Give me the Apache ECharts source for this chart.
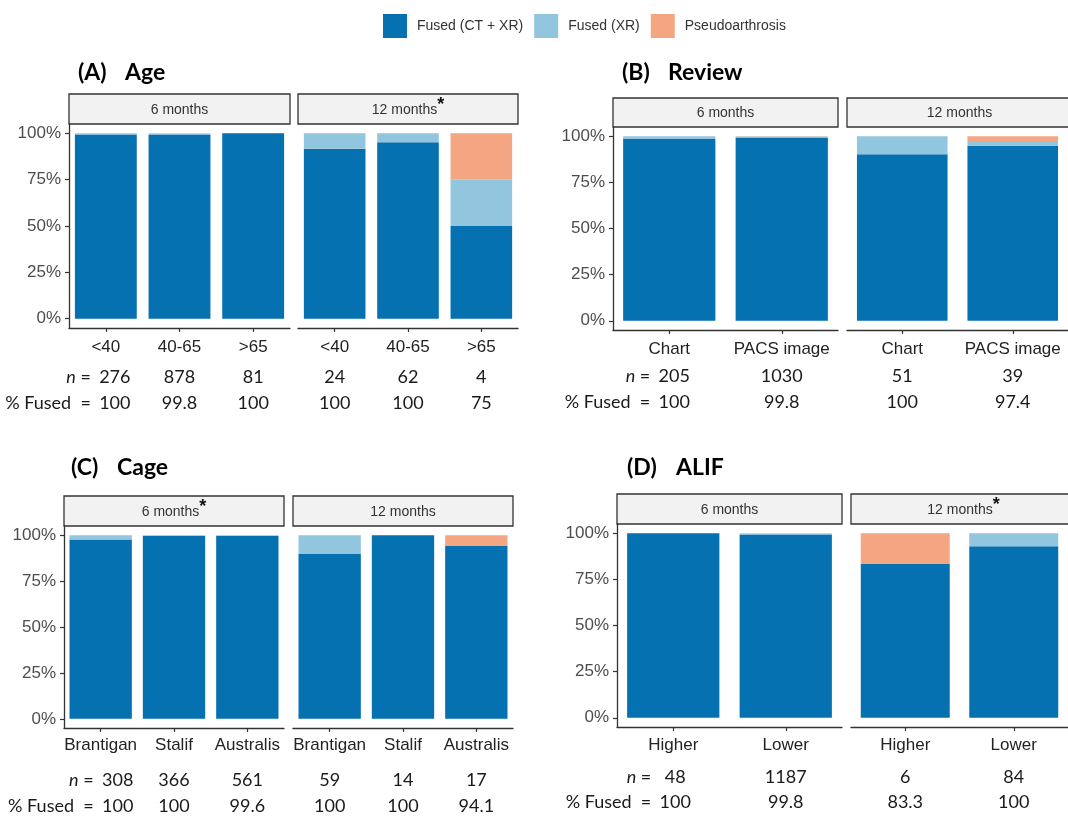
<!DOCTYPE html>
<html><head><meta charset="utf-8">
<script src="https://cdn.jsdelivr.net/npm/echarts@6/dist/echarts.min.js"></script>
<style>html,body{margin:0;padding:0;background:#fff}#c{width:1068px;height:817px}</style>
</head><body><div id="c"></div><script>
// ---------- DATA ----------
const seriesNames = ['Fused (CT + XR)', 'Fused (XR)', 'Pseudoarthrosis'];
const facetNames = ['6 months', '12 months'];
const yTicks = [0, 25, 50, 75, 100];

// (A) Age
const ageCats = ['<40', '40-65', '>65'];
const age6CT = [99.3, 99.4, 100];
const age6XR = [0.7, 0.4, 0];
const age6PS = [0, 0.2, 0];
const age12CT = [91.7, 95.2, 50];
const age12XR = [8.3, 4.8, 25];
const age12PS = [0, 0, 25];
const age6N = ['276', '878', '81'];
const age12N = ['24', '62', '4'];
const age6Pct = ['100', '99.8', '100'];
const age12Pct = ['100', '100', '75'];

// (B) Review
const revCats = ['Chart', 'PACS image'];
const rev6CT = [98.5, 99.3];
const rev6XR = [1.5, 0.5];
const rev6PS = [0, 0.2];
const rev12CT = [90.2, 94.9];
const rev12XR = [9.8, 2.5];
const rev12PS = [0, 2.6];
const rev6N = ['205', '1030'];
const rev12N = ['51', '39'];
const rev6Pct = ['100', '99.8'];
const rev12Pct = ['100', '97.4'];

// (C) Cage
const cageCats = ['Brantigan', 'Stalif', 'Australis'];
const cage6CT = [97.7, 99.7, 99.6];
const cage6XR = [2.3, 0.3, 0];
const cage6PS = [0, 0, 0.4];
const cage12CT = [89.8, 100, 94.1];
const cage12XR = [10.2, 0, 0];
const cage12PS = [0, 0, 5.9];
const cage6N = ['308', '366', '561'];
const cage12N = ['59', '14', '17'];
const cage6Pct = ['100', '100', '99.6'];
const cage12Pct = ['100', '100', '94.1'];

// (D) ALIF
const alifCats = ['Higher', 'Lower'];
const alif6CT = [100, 99.3];
const alif6XR = [0, 0.5];
const alif6PS = [0, 0.2];
const alif12CT = [83.3, 92.9];
const alif12XR = [0, 7.1];
const alif12PS = [16.7, 0];
const alif6N = ['48', '1187'];
const alif12N = ['6', '84'];
const alif6Pct = ['100', '99.8'];
const alif12Pct = ['83.3', '100'];

// ---------- PANELS (data refs + layout) ----------
const colors = ['#0571B0', '#92C5DE', '#F4A582'];
const panels = [
  { tag: '(A)', title: 'Age', cats: ageCats,
    facets: [
      { star: false, vals: [age6CT, age6XR, age6PS], n: age6N, pct: age6Pct },
      { star: true, vals: [age12CT, age12XR, age12PS], n: age12N, pct: age12Pct }],
    L: { stripTop: 94, top: 124, bottom: 328, lefts: [69, 298], widths: [221, 220], ty: 73, tx: [78, 125], m: 4, lh: [30, 30, 22], bw: '84%', shift: 9 } },
  { tag: '(B)', title: 'Review', cats: revCats,
    facets: [
      { star: false, vals: [rev6CT, rev6XR, rev6PS], n: rev6N, pct: rev6Pct },
      { star: false, vals: [rev12CT, rev12XR, rev12PS], n: rev12N, pct: rev12Pct }],
    L: { stripTop: 98, top: 127, bottom: 330, lefts: [613, 847], widths: [225, 225], ty: 73, tx: [622, 668], m: 4, lh: [30, 24, 28], bw: '82%', shift: 5 } },
  { tag: '(C)', title: 'Cage', cats: cageCats,
    facets: [
      { star: true, vals: [cage6CT, cage6XR, cage6PS], n: cage6N, pct: cage6Pct },
      { star: false, vals: [cage12CT, cage12XR, cage12PS], n: cage12N, pct: cage12Pct }],
    L: { stripTop: 496, top: 526, bottom: 728, lefts: [64, 293], widths: [220, 220], ty: 468, tx: [71, 117], m: 2, lh: [30, 40, 12], bw: '85%', shift: 17 } },
  { tag: '(D)', title: 'ALIF', cats: alifCats,
    facets: [
      { star: false, vals: [alif6CT, alif6XR, alif6PS], n: alif6N, pct: alif6Pct },
      { star: true, vals: [alif12CT, alif12XR, alif12PS], n: alif12N, pct: alif12Pct }],
    L: { stripTop: 494, top: 524, bottom: 727, lefts: [617, 851], widths: [225, 225], ty: 468, tx: [627, 676], m: 3, lh: [30, 34, 16], bw: '82%', shift: 2 } }
];

const axisCol = '#333333';
const numFont = 'Lato, "Open Sans", sans-serif';
const grids = [], xAxes = [], yAxes = [], series = [], graphics = [];
let gi = 0;
panels.forEach(p => {
  const L = p.L;
  graphics.push({ type: 'text', x: L.tx[0], y: L.ty, style: { text: p.tag, font: 'bold 23px Lato, sans-serif', fill: '#000', textAlign: 'left', textVerticalAlign: 'middle', align: 'left', verticalAlign: 'middle' } });
  graphics.push({ type: 'text', x: L.tx[1], y: L.ty, style: { text: p.title, font: 'bold 23px Lato, sans-serif', fill: '#000', textAlign: 'left', textVerticalAlign: 'middle', align: 'left', verticalAlign: 'middle' } });
  p.facets.forEach((f, fi) => {
    const left = L.lefts[fi], width = L.widths[fi];
    grids.push({ left: left, top: L.top, width: width, height: L.bottom - L.top, containLabel: false });
    const nArr = f.n, pArr = f.pct;
    const sh = 2 * L.shift;
    xAxes.push({
      type: 'category', gridIndex: gi, data: p.cats,
      axisLine: { show: true, onZero: false, lineStyle: { color: axisCol, width: 1.3 } },
      axisTick: { show: true, alignWithLabel: true, length: 4, lineStyle: { color: axisCol, width: 1.2 } },
      axisLabel: {
        interval: 0, margin: L.m,
        formatter: (v, idx) => {
          const first = (fi === 0 && idx === 0);
          return '{c|' + v + '}\n{' + (first ? 'n0' : 'n') + '|' + nArr[idx] + '}\n{' + (first ? 'p0' : 'p') + '|' + pArr[idx] + '}';
        },
        rich: {
          c: { fontFamily: '"Liberation Sans", Arial, sans-serif', fontSize: 17, color: '#222', lineHeight: L.lh[0] },
          n: { fontFamily: numFont, fontSize: 18, color: '#1a1a1a', lineHeight: L.lh[1] },
          p: { fontFamily: numFont, fontSize: 18, color: '#1a1a1a', lineHeight: L.lh[2] },
          n0: { fontFamily: numFont, fontSize: 18, color: '#1a1a1a', lineHeight: L.lh[1], padding: [0, 0, 0, sh] },
          p0: { fontFamily: numFont, fontSize: 18, color: '#1a1a1a', lineHeight: L.lh[2], padding: [0, 0, 0, sh] }
        }
      }
    });
    yAxes.push({
      type: 'value', gridIndex: gi, min: -5, max: 105, show: fi === 0,
      splitLine: { show: false },
      axisLine: { show: fi === 0, lineStyle: { color: axisCol, width: 1.3 } },
      axisTick: { show: fi === 0, length: 4, customValues: yTicks, lineStyle: { color: axisCol, width: 1.2 } },
      axisLabel: { show: fi === 0, customValues: yTicks, margin: 8, formatter: v => v + '%', fontFamily: '"Liberation Sans", Arial, sans-serif', fontSize: 17, color: '#4d4d4d' }
    });
    f.vals.forEach((arr, si) => {
      series.push({
        type: 'bar', name: seriesNames[si], xAxisIndex: gi, yAxisIndex: gi, stack: 'g' + gi,
        data: arr, barWidth: L.bw, itemStyle: { color: colors[si] }, emphasis: { disabled: true }
      });
    });
    graphics.push({ type: 'rect', shape: { x: left, y: L.stripTop, width: width, height: L.top - L.stripTop }, style: { fill: '#f2f2f2', stroke: '#333', lineWidth: 1.3 } });
    const stxt = f.star ? '{t|' + facetNames[fi] + '}{s|*}' : '{t|' + facetNames[fi] + '}';
    graphics.push({ type: 'text', x: left + width / 2, y: L.stripTop + (L.top - L.stripTop) / 2 + 1,
      style: { text: stxt, textAlign: 'center', textVerticalAlign: 'middle', align: 'center', verticalAlign: 'middle',
        rich: { t: { fontFamily: '"Liberation Sans Narrow", "Liberation Sans", Arial, sans-serif', fontSize: 14, fill: '#333', color: '#333' },
                s: { fontFamily: 'Arial, sans-serif', fontWeight: 'bold', fontSize: 18, fill: '#111', color: '#111', padding: [0, 0, 9, 0] } } } });
    if (fi === 0) {
      const firstCenter = left + width / (2 * p.cats.length) + L.shift;
      const px = firstCenter - 24;
      const yN = L.bottom + L.m + L.lh[0] + L.lh[1] / 2;
      const yP = L.bottom + L.m + L.lh[0] + L.lh[1] + L.lh[2] / 2;
      graphics.push({ type: 'text', x: px, y: yN, style: { text: '{i|n} =', textAlign: 'right', textVerticalAlign: 'middle', align: 'right', verticalAlign: 'middle',
        rich: { i: { fontFamily: numFont, fontStyle: 'italic', fontSize: 18, fill: '#1a1a1a', color: '#1a1a1a' } }, font: '18px ' + numFont, fill: '#1a1a1a' } });
      graphics.push({ type: 'text', x: px, y: yP, style: { text: '% Fused  =', font: '18px ' + numFont, fill: '#1a1a1a', textAlign: 'right', textVerticalAlign: 'middle', align: 'right', verticalAlign: 'middle' } });
    }
    gi++;
  });
});

const chart = echarts.init(document.getElementById('c'), null, { renderer: 'canvas' });
chart.setOption({
  animation: false,
  backgroundColor: '#ffffff',
  color: colors,
  legend: {
    data: seriesNames, top: 9, left: 378, itemWidth: 24, itemHeight: 24, itemGap: 11, icon: 'rect', selectedMode: false,
    textStyle: { fontFamily: '"Liberation Sans", Arial, sans-serif', fontSize: 14, color: '#333', padding: [0, 0, 0, 5] }
  },
  grid: grids, xAxis: xAxes, yAxis: yAxes, series: series, graphic: graphics
});
</script></body></html>
